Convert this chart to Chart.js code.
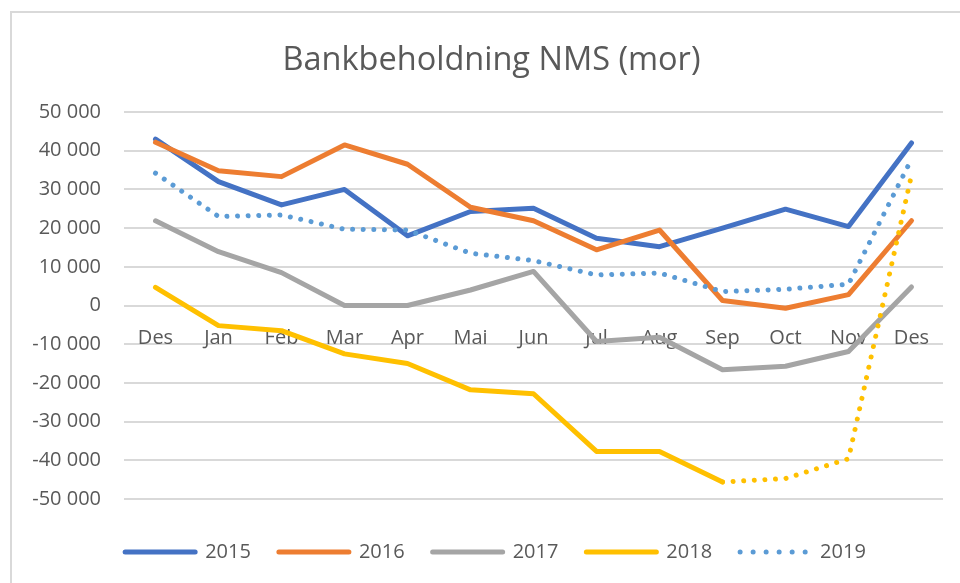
<!DOCTYPE html>
<html>
<head>
<meta charset="utf-8">
<script src="https://cdn.jsdelivr.net/npm/chart.js@4.4.0/dist/chart.umd.min.js"></script>
<style>
  html, body { margin: 0; padding: 0; background: #fff; overflow: hidden; }
</style>
</head>
<body>
<canvas id="chart" width="960" height="583"></canvas>
<script>
const months = ['Des', 'Jan', 'Feb', 'Mar', 'Apr', 'Mai', 'Jun', 'Jul', 'Aug', 'Sep', 'Oct', 'Nov', 'Des'];
const yTicks = [-50000, -40000, -30000, -20000, -10000, 0, 10000, 20000, 30000, 40000, 50000];

const years = ['2015', '2016', '2017', '2018', '2019'];
const v2015 = [43000, 32000, 26000, 30000, 18000, 24300, 25100, 17400, 15200, 20000, 24900, 20400, 42000];
const v2016 = [42200, 34800, 33300, 41500, 36500, 25400, 21900, 14400, 19500, 1300, -700, 2800, 21900];
const v2017 = [21900, 13900, 8500, 0, 0, 4000, 8800, -9300, -8200, -16600, -15700, -11900, 4800];
const v2018 = [4700, -5200, -6500, -12500, -15000, -21800, -22800, -37700, -37700, -45600, -44700, -39600, 33700];
const v2019 = [34200, 23000, 23400, 19700, 19500, 13500, 11600, 7900, 8400, 3600, 4200, 5500, 37800];
const colors = ['#4472C4', '#ED7D31', '#A5A5A5', '#FFC000', '#5B9BD5'];

// 2018 turns dotted from Sep onwards (index 9)
const dottedFrom2018 = 9;

const textColor = '#595959';
const fontFamily = "'Open Sans', 'Noto Sans', sans-serif";
const dotDash = [0.01, 10.6];

function fmt(v) {
    const s = Math.abs(v).toString().replace(/\B(?=(\d{3})+(?!\d))/g, ' ');
    return (v < 0 ? '-' : '') + s;
}

// light frame of the chart object, runs off the right and bottom edge
const frame = {
    id: 'frame',
    afterLayout(chart) {
        // the excel frame is wider than the picture, so title and legend sit right of centre
        if (chart.titleBlock) chart.titleBlock.left = 40;
        if (chart.legend) chart.legend.left = 48;
    },
    beforeDraw(chart) {
        const ctx = chart.ctx;
        ctx.save();
        ctx.strokeStyle = '#D9D9D9';
        ctx.lineWidth = 2;
        ctx.beginPath();
        ctx.moveTo(11, 600);
        ctx.lineTo(11, 12);
        ctx.lineTo(970, 12);
        ctx.stroke();
        ctx.restore();
    }
};

const series = [v2015, v2016, v2017, v2018, v2019];
const datasets = series.map((data, i) => {
    const ds = {
        label: years[i],
        data: data,
        borderColor: colors[i],
        backgroundColor: colors[i],
        borderWidth: 5,
        pointRadius: 0,
        pointHoverRadius: 0,
        tension: 0,
        fill: false,
        borderCapStyle: 'round',
        borderJoinStyle: 'round',
        order: series.length - i
    };
    if (i === 4) ds.borderDash = dotDash;
    if (i === 3) {
        ds.segment = {
            borderDash: c => c.p0DataIndex >= dottedFrom2018 ? dotDash : undefined
        };
    }
    return ds;
});

new Chart(document.getElementById('chart'), {
    type: 'line',
    data: { labels: months, datasets: datasets },
    options: {
        responsive: false,
        devicePixelRatio: 1,
        animation: false,
        layout: { padding: { left: 0, right: 17, top: 0, bottom: 11 } },
        scales: {
            x: {
                position: { y: 0 },
                offset: true,
                grid: { display: false, drawTicks: false },
                border: { display: false },
                ticks: {
                    color: textColor,
                    font: { family: fontFamily, size: 20 },
                    padding: 21,
                    maxRotation: 0,
                    autoSkip: false
                }
            },
            y: {
                min: -50000,
                max: 50000,
                afterBuildTicks: s => { s.ticks = yTicks.map(v => ({ value: v })); },
                afterFit: s => { s.width = 124; },
                grid: { color: '#D9D9D9', lineWidth: 2, drawTicks: false },
                border: { display: false },
                ticks: {
                    color: textColor,
                    font: { family: fontFamily, size: 20 },
                    padding: 23,
                    callback: v => fmt(v)
                }
            }
        },
        plugins: {
            title: {
                display: true,
                text: 'Bankbeholdning NMS (mor)',
                color: textColor,
                font: { family: fontFamily, size: 32.5, weight: 'normal' },
                padding: { top: 41.5, bottom: 31.5 }
            },
            legend: {
                position: 'bottom',
                title: { display: true, text: ' ', font: { size: 10 }, padding: { top: 3, bottom: 0 } },
                labels: {
                    usePointStyle: true,
                    pointStyleWidth: 70,
                    padding: 28,
                    color: textColor,
                    font: { family: fontFamily, size: 20 },
                    generateLabels: chart => chart.data.datasets.map((ds, i) => ({
                        text: ds.label,
                        datasetIndex: i,
                        fillStyle: ds.borderColor,
                        strokeStyle: ds.borderColor,
                        fontColor: textColor,
                        lineWidth: 5,
                        lineCap: 'round',
                        lineDash: i === 4 ? [0.01, 13] : [],
                        pointStyle: 'line',
                        hidden: false
                    }))
                }
            },
            tooltip: { enabled: false }
        }
    },
    plugins: [frame]
});
</script>
</body>
</html>
